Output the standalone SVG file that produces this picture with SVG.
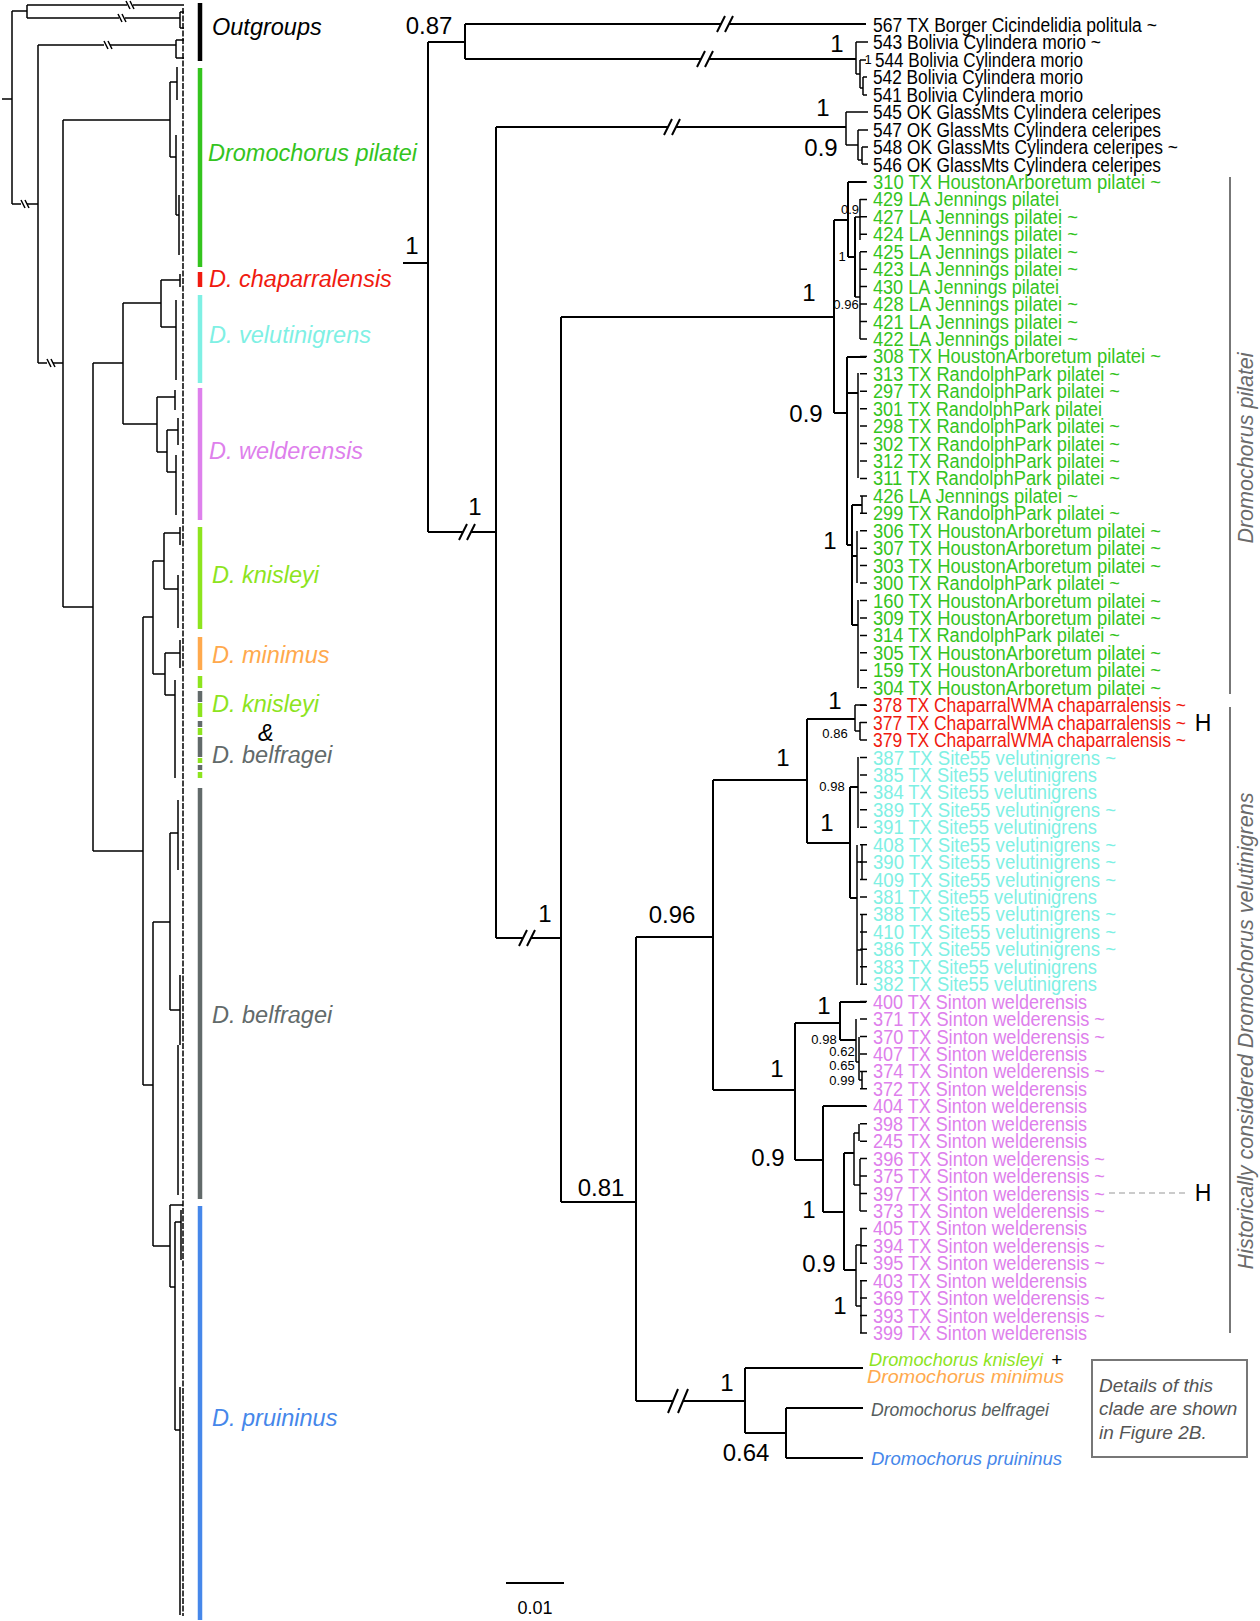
<svg xmlns="http://www.w3.org/2000/svg" width="1260" height="1621" viewBox="0 0 1260 1621">
<style>
text{font-family:"Liberation Sans",Arial,sans-serif}
.tip{font-size:20px}
.k{fill:#000}.g{fill:#34c41e}.r{fill:#f01a10}.c{fill:#7ff0e4}.p{fill:#de80ec}
.sup{font-size:24px;text-anchor:middle;fill:#000}
.ss{font-size:13px;text-anchor:middle;fill:#000}
.big{font-size:23.5px;font-style:italic}
.it{font-size:19px;font-style:italic}
.rot{font-size:21.5px;font-style:italic;fill:#6b6b6b;text-anchor:middle}
.ln{fill:none;stroke:#000;stroke-width:2}
.lt{fill:none;stroke:#000;stroke-width:1.5}
.bar{stroke-width:4.5;fill:none}
</style>
<rect width="1260" height="1621" fill="#fff"/>

<!-- left overview tree -->
<g id="overview-tree">
<path class="lt" d="M2,99 H12 M12,11 V204 M12,11 H27 M27,5 V18
M27,5 H127 M133,5 H184 M27,18 H119 M125,18 H180 M180,12 V28 M180,12 H184 M180,28 H184
M12,204 H21 M27,204 H38 M38,45 V363 M38,45 H104 M110,45 H176 M176,40 V58 M176,40 H184 M176,58 H184
M38,363 H47 M53,363 H63 M63,120 V607 M63,120 H170
M170,82 V157 M170,82 H177 M177,67 V100 M170,157 H176 M176,135 V215 M176,215 H179 M179,195 V255
M63,607 H93 M93,363 V851 M93,363 H123 M123,303 V424 M123,303 H161
M161,280 V327 M161,280 H180 M180,274 V287 M161,327 H176 M176,300 V380
M123,424 H157 M157,397 V452 M157,397 H175 M175,390 V410 M157,452 H167 M167,430 V472 M167,430 H178 M178,418 V445 M167,472 H176 M176,455 V515
M93,851 H143 M143,617 V1085 M143,617 H153 M153,561 V674 M153,561 H164 M164,533 V589 M164,533 H180 M180,527 V545 M164,589 H178 M178,575 V628
M153,674 H165 M165,653 V695 M165,653 H180 M180,640 V668 M165,695 H175 M175,680 V778
M143,1085 H153 M153,922 V1246 M153,922 H170 M170,833 V1010 M170,833 H178 M178,800 V870 M170,1010 H180 M180,975 V1045 M178,1045 V1195
M153,1246 H170 M170,1205 V1287 M170,1205 H183 M170,1287 H175 M175,1222 V1430 M175,1222 H181 M181,1210 V1260 M175,1430 H180 M180,1387 V1500 M180,1500 V1615"/>
<path class="lt" d="M183,8 V1616" stroke-dasharray="6 1.5"/>
<path class="lt" d="M130,1 L134,9 M126,1 L130,9 M122,14 L126,22 M118,14 L122,22 M21,200 L25,208 M25,200 L29,208 M104,41 L108,49 M108,41 L112,49 M47,359 L51,367 M51,359 L55,367" stroke-width="1.2"/>
</g>

<g id="clade-bars">
<path class="bar" stroke="#000" d="M200,3 V61"/>
<path class="bar" stroke="#34c41e" d="M200,68 V267"/>
<path class="bar" stroke="#f01a10" d="M200,272 V287"/>
<path class="bar" stroke="#7ff0e4" d="M200,295 V383"/>
<path class="bar" stroke="#de80ec" d="M200,388 V520"/>
<path class="bar" stroke="#8de41e" d="M200,527 V629 M200,676 V688 M200,703 V717 M200,728 V735 M200,758 V763 M200,772 V778"/>
<path class="bar" stroke="#ffa94d" d="M200,637 V670"/>
<path class="bar" stroke="#626a6a" d="M200,691 V702 M200,721 V727 M200,737 V757 M200,765 V770 M200,788 V1199"/>
<path class="bar" stroke="#4687ea" d="M200,1206 V1620"/>
</g>

<g id="label-outgroups"><text class="big" x="212" y="35" fill="#000">Outgroups</text></g>
<g id="label-pilatei"><text class="big" x="208" y="161" fill="#34c41e">Dromochorus pilatei</text></g>
<g id="label-chaparralensis"><text class="big" x="209" y="287" fill="#f01a10">D. chaparralensis</text></g>
<g id="label-velutinigrens"><text class="big" x="209" y="343" fill="#7ff0e4">D. velutinigrens</text></g>
<g id="label-welderensis"><text class="big" x="209" y="459" fill="#de80ec">D. welderensis</text></g>
<g id="label-knisleyi"><text class="big" x="212" y="583" fill="#8de41e">D. knisleyi</text></g>
<g id="label-minimus"><text class="big" x="212" y="663" fill="#ffa94d">D. minimus</text></g>
<g id="label-knisleyi2"><text class="big" x="212" y="712" fill="#8de41e">D. knisleyi</text></g>
<g id="label-amp"><text class="big" x="258" y="741" fill="#000">&amp;</text></g>
<g id="label-belfragei2"><text class="big" x="212" y="763" fill="#626a6a">D. belfragei</text></g>
<g id="label-belfragei"><text class="big" x="212" y="1023" fill="#626a6a">D. belfragei</text></g>
<g id="label-pruininus"><text class="big" x="212" y="1426" fill="#4687ea">D. pruininus</text></g>

<!-- right detailed tree -->
<g id="connectors">
<path class="ln" d="M403,263 H428 M428,42 V532 M428,42 H465 M465,24 V59
M465,24 H721 M729,24 H866
M465,59 H701 M709,59 H856
M428,532 H463 M471,532 H496
M496,127 V938
M496,127 H668 M676,127 H846
M496,938 H523 M531,938 H561
M561,317 V1202
M561,317 H834 M834,220 V413 M834,220 H848 M848,182 V257 M848,182 H866 M848,257 H855 M855,217 V297
M834,413 H847 M847,357 V545 M847,357 H866 M847,393 H858 M847,545 H852 M852,505 V625 M852,505 H862 M852,556 H857 M852,625 H858
M636,937 H713 M713,780 V1090 M713,780 H807 M807,719 V843 M807,719 H855 M807,843 H850 M850,787 V898 M850,787 H858 M850,898 H857
M713,1090 H795 M795,1023 V1160 M795,1023 H840 M840,1002 V1040 M840,1002 H866 M840,1040 H856
M795,1160 H823 M823,1106 V1212 M823,1106 H866 M823,1212 H844 M844,1153 V1270 M844,1153 H854 M844,1270 H856
M561,1202 H636 M636,937 V1401
M636,1401 H673 M683,1401 H745 M745,1368 V1433 M745,1368 H863 M745,1433 H786 M786,1408 V1458 M786,1408 H863 M786,1458 H863"/>
<path class="ln" d="M717,32 L725,16 M725,32 L733,16 M697,67 L705,51 M705,67 L713,51 M459,540 L467,524 M467,540 L475,524 M664,135 L672,119 M672,135 L680,119 M519,946 L527,930 M527,946 L535,930 M668,1413 L678,1389 M678,1413 L688,1389"/>
<path class="lt" d="M856,42 V74 M856,42 H868 M856,74 H860 M860,60 V88 M860,60 H866 M860,88 H863 M863,77 V95 M863,77 H867 M863,95 H867
M846,112 V145 M846,112 H868 M846,145 H858 M858,130 V160 M858,130 H868 M858,160 H862 M862,147 V164 M862,147 H868 M862,164 H868
M860,199 V240 M855,217 H860 M855,297 H860 M860,252 V339
M858,373 V478 M862,496 V513 M857,531 V583 M858,600 V688
M855,705 V731 M855,705 H866 M855,731 H860 M860,722 V740
M858,757 V828 M857,845 V985 M857,862 H862 M862,845 V880 M857,950 H862 M862,914 V985
M856,1019 V1062 M856,1062 H859 M859,1037 V1080 M859,1080 H862 M862,1071 V1089
M854,1133 V1185 M854,1133 H859 M859,1124 V1141 M854,1185 H860 M860,1159 V1211
M856,1245 V1306 M856,1245 H861 M861,1228 V1263 M856,1306 H861 M861,1281 V1333"/>
<path class="lt" d="M860,182h7M860,199.4h7M860,216.8h7M860,234.3h7M860,251.7h7M860,269.2h7M860,286.6h7M860,304h7M860,321.5h7M860,338.9h7M860,356.4h7M860,373.8h7M860,391.2h7M860,408.7h7M860,426.1h7M860,443.6h7M860,461h7M860,478.4h7M860,495.9h7M860,513.3h7M860,530.8h7M860,548.2h7M860,565.6h7M860,583.1h7M860,600.5h7M860,618h7M860,635.4h7M860,652.8h7M860,670.3h7M860,687.7h7M860,705.2h7M860,722.6h7M860,740h7M860,757.5h7M860,774.9h7M860,792.4h7M860,809.8h7M860,827.2h7M860,844.7h7M860,862.1h7M860,879.6h7M860,897h7M860,914.4h7M860,931.9h7M860,949.3h7M860,966.8h7M860,984.2h7M860,1001.6h7M860,1019.1h7M860,1036.5h7M860,1054h7M860,1071.4h7M860,1088.8h7M860,1106.3h7M860,1123.7h7M860,1141.2h7M860,1158.6h7M860,1176h7M860,1193.5h7M860,1210.9h7M860,1228.4h7M860,1245.8h7M860,1263.2h7M860,1280.7h7M860,1298.1h7M860,1315.6h7M860,1333h7"/>
<path d="M1109,1193 H1188" stroke="#bbb" stroke-width="1.5" stroke-dasharray="6 4" fill="none"/>
<path d="M1230,177 V694 M1230,707 V1333" stroke="#777" stroke-width="2" fill="none"/>
<path d="M506,1583 H564" stroke="#000" stroke-width="2" fill="none"/>
</g>

<g id="support-values">
<text class="sup" x="429" y="34">0.87</text>
<text class="sup" x="837" y="52">1</text>
<text class="sup" x="823" y="116">1</text>
<text class="sup" x="821" y="156">0.9</text>
<text class="sup" x="412" y="254">1</text>
<text class="sup" x="475" y="515">1</text>
<text class="sup" x="545" y="922">1</text>
<text class="sup" x="809" y="301">1</text>
<text class="sup" x="806" y="422">0.9</text>
<text class="sup" x="830" y="549">1</text>
<text class="sup" x="835" y="709">1</text>
<text class="sup" x="783" y="766">1</text>
<text class="sup" x="827" y="831">1</text>
<text class="sup" x="672" y="923">0.96</text>
<text class="sup" x="601" y="1196">0.81</text>
<text class="sup" x="777" y="1077">1</text>
<text class="sup" x="824" y="1014">1</text>
<text class="sup" x="768" y="1166">0.9</text>
<text class="sup" x="809" y="1218">1</text>
<text class="sup" x="819" y="1272">0.9</text>
<text class="sup" x="840" y="1314">1</text>
<text class="sup" x="727" y="1391">1</text>
<text class="sup" x="746" y="1461">0.64</text>
<text class="ss" x="850" y="214" font-size="11">0.9</text>
<text class="ss" x="842" y="261" font-size="16">1</text>
<text class="ss" x="846" y="309" font-size="11">0.96</text>
<text class="ss" x="835" y="738" font-size="14">0.86</text>
<text class="ss" x="832" y="791" font-size="14">0.98</text>
<text class="ss" x="824" y="1044">0.98</text>
<text class="ss" x="842" y="1056">0.62</text>
<text class="ss" x="842" y="1070">0.65</text>
<text class="ss" x="842" y="1085">0.99</text>
<text class="ss" x="868" y="64">1</text>
</g>

<g id="tip-labels">
<g id="t567"><text class="tip k" x="873" y="32" textLength="284" lengthAdjust="spacingAndGlyphs">567 TX Borger Cicindelidia politula ~</text></g>
<g id="t543"><text class="tip k" x="873" y="49.4" textLength="228" lengthAdjust="spacingAndGlyphs">543 Bolivia Cylindera morio ~</text></g>
<g id="t544"><text class="tip k" x="875" y="66.9" textLength="208" lengthAdjust="spacingAndGlyphs">544 Bolivia Cylindera morio</text></g>
<g id="t542"><text class="tip k" x="873" y="84.3" textLength="210" lengthAdjust="spacingAndGlyphs">542 Bolivia Cylindera morio</text></g>
<g id="t541"><text class="tip k" x="873" y="101.8" textLength="210" lengthAdjust="spacingAndGlyphs">541 Bolivia Cylindera morio</text></g>
<g id="t545"><text class="tip k" x="873" y="119.2" textLength="288" lengthAdjust="spacingAndGlyphs">545 OK GlassMts Cylindera celeripes</text></g>
<g id="t547"><text class="tip k" x="873" y="136.6" textLength="288" lengthAdjust="spacingAndGlyphs">547 OK GlassMts Cylindera celeripes</text></g>
<g id="t548"><text class="tip k" x="873" y="154.1" textLength="305" lengthAdjust="spacingAndGlyphs">548 OK GlassMts Cylindera celeripes ~</text></g>
<g id="t546"><text class="tip k" x="873" y="171.5" textLength="288" lengthAdjust="spacingAndGlyphs">546 OK GlassMts Cylindera celeripes</text></g>
<g id="t310"><text class="tip g" x="873" y="189" textLength="288" lengthAdjust="spacingAndGlyphs">310 TX HoustonArboretum pilatei ~</text></g>
<g id="t429"><text class="tip g" x="873" y="206.4" textLength="186" lengthAdjust="spacingAndGlyphs">429 LA Jennings pilatei</text></g>
<g id="t427"><text class="tip g" x="873" y="223.8" textLength="205" lengthAdjust="spacingAndGlyphs">427 LA Jennings pilatei ~</text></g>
<g id="t424"><text class="tip g" x="873" y="241.3" textLength="205" lengthAdjust="spacingAndGlyphs">424 LA Jennings pilatei ~</text></g>
<g id="t425"><text class="tip g" x="873" y="258.7" textLength="205" lengthAdjust="spacingAndGlyphs">425 LA Jennings pilatei ~</text></g>
<g id="t423"><text class="tip g" x="873" y="276.2" textLength="205" lengthAdjust="spacingAndGlyphs">423 LA Jennings pilatei ~</text></g>
<g id="t430"><text class="tip g" x="873" y="293.6" textLength="186" lengthAdjust="spacingAndGlyphs">430 LA Jennings pilatei</text></g>
<g id="t428"><text class="tip g" x="873" y="311" textLength="205" lengthAdjust="spacingAndGlyphs">428 LA Jennings pilatei ~</text></g>
<g id="t421"><text class="tip g" x="873" y="328.5" textLength="205" lengthAdjust="spacingAndGlyphs">421 LA Jennings pilatei ~</text></g>
<g id="t422"><text class="tip g" x="873" y="345.9" textLength="205" lengthAdjust="spacingAndGlyphs">422 LA Jennings pilatei ~</text></g>
<g id="t308"><text class="tip g" x="873" y="363.4" textLength="288" lengthAdjust="spacingAndGlyphs">308 TX HoustonArboretum pilatei ~</text></g>
<g id="t313"><text class="tip g" x="873" y="380.8" textLength="247" lengthAdjust="spacingAndGlyphs">313 TX RandolphPark pilatei ~</text></g>
<g id="t297"><text class="tip g" x="873" y="398.2" textLength="247" lengthAdjust="spacingAndGlyphs">297 TX RandolphPark pilatei ~</text></g>
<g id="t301"><text class="tip g" x="873" y="415.7" textLength="229" lengthAdjust="spacingAndGlyphs">301 TX RandolphPark pilatei</text></g>
<g id="t298"><text class="tip g" x="873" y="433.1" textLength="247" lengthAdjust="spacingAndGlyphs">298 TX RandolphPark pilatei ~</text></g>
<g id="t302"><text class="tip g" x="873" y="450.6" textLength="247" lengthAdjust="spacingAndGlyphs">302 TX RandolphPark pilatei ~</text></g>
<g id="t312"><text class="tip g" x="873" y="468" textLength="247" lengthAdjust="spacingAndGlyphs">312 TX RandolphPark pilatei ~</text></g>
<g id="t311"><text class="tip g" x="873" y="485.4" textLength="247" lengthAdjust="spacingAndGlyphs">311 TX RandolphPark pilatei ~</text></g>
<g id="t426"><text class="tip g" x="873" y="502.9" textLength="205" lengthAdjust="spacingAndGlyphs">426 LA Jennings pilatei ~</text></g>
<g id="t299"><text class="tip g" x="873" y="520.3" textLength="247" lengthAdjust="spacingAndGlyphs">299 TX RandolphPark pilatei ~</text></g>
<g id="t306"><text class="tip g" x="873" y="537.8" textLength="288" lengthAdjust="spacingAndGlyphs">306 TX HoustonArboretum pilatei ~</text></g>
<g id="t307"><text class="tip g" x="873" y="555.2" textLength="288" lengthAdjust="spacingAndGlyphs">307 TX HoustonArboretum pilatei ~</text></g>
<g id="t303"><text class="tip g" x="873" y="572.6" textLength="288" lengthAdjust="spacingAndGlyphs">303 TX HoustonArboretum pilatei ~</text></g>
<g id="t300"><text class="tip g" x="873" y="590.1" textLength="247" lengthAdjust="spacingAndGlyphs">300 TX RandolphPark pilatei ~</text></g>
<g id="t160"><text class="tip g" x="873" y="607.5" textLength="288" lengthAdjust="spacingAndGlyphs">160 TX HoustonArboretum pilatei ~</text></g>
<g id="t309"><text class="tip g" x="873" y="625" textLength="288" lengthAdjust="spacingAndGlyphs">309 TX HoustonArboretum pilatei ~</text></g>
<g id="t314"><text class="tip g" x="873" y="642.4" textLength="247" lengthAdjust="spacingAndGlyphs">314 TX RandolphPark pilatei ~</text></g>
<g id="t305"><text class="tip g" x="873" y="659.8" textLength="288" lengthAdjust="spacingAndGlyphs">305 TX HoustonArboretum pilatei ~</text></g>
<g id="t159"><text class="tip g" x="873" y="677.3" textLength="288" lengthAdjust="spacingAndGlyphs">159 TX HoustonArboretum pilatei ~</text></g>
<g id="t304"><text class="tip g" x="873" y="694.7" textLength="288" lengthAdjust="spacingAndGlyphs">304 TX HoustonArboretum pilatei ~</text></g>
<g id="t378"><text class="tip r" x="873" y="712.2" textLength="313" lengthAdjust="spacingAndGlyphs">378 TX ChaparralWMA chaparralensis ~</text></g>
<g id="t377"><text class="tip r" x="873" y="729.6" textLength="313" lengthAdjust="spacingAndGlyphs">377 TX ChaparralWMA chaparralensis ~</text></g>
<g id="t379"><text class="tip r" x="873" y="747" textLength="313" lengthAdjust="spacingAndGlyphs">379 TX ChaparralWMA chaparralensis ~</text></g>
<g id="t387"><text class="tip c" x="873" y="764.5" textLength="243" lengthAdjust="spacingAndGlyphs">387 TX Site55 velutinigrens ~</text></g>
<g id="t385"><text class="tip c" x="873" y="781.9" textLength="224" lengthAdjust="spacingAndGlyphs">385 TX Site55 velutinigrens</text></g>
<g id="t384"><text class="tip c" x="873" y="799.4" textLength="224" lengthAdjust="spacingAndGlyphs">384 TX Site55 velutinigrens</text></g>
<g id="t389"><text class="tip c" x="873" y="816.8" textLength="243" lengthAdjust="spacingAndGlyphs">389 TX Site55 velutinigrens ~</text></g>
<g id="t391"><text class="tip c" x="873" y="834.2" textLength="224" lengthAdjust="spacingAndGlyphs">391 TX Site55 velutinigrens</text></g>
<g id="t408"><text class="tip c" x="873" y="851.7" textLength="243" lengthAdjust="spacingAndGlyphs">408 TX Site55 velutinigrens ~</text></g>
<g id="t390"><text class="tip c" x="873" y="869.1" textLength="243" lengthAdjust="spacingAndGlyphs">390 TX Site55 velutinigrens ~</text></g>
<g id="t409"><text class="tip c" x="873" y="886.6" textLength="243" lengthAdjust="spacingAndGlyphs">409 TX Site55 velutinigrens ~</text></g>
<g id="t381"><text class="tip c" x="873" y="904" textLength="224" lengthAdjust="spacingAndGlyphs">381 TX Site55 velutinigrens</text></g>
<g id="t388"><text class="tip c" x="873" y="921.4" textLength="243" lengthAdjust="spacingAndGlyphs">388 TX Site55 velutinigrens ~</text></g>
<g id="t410"><text class="tip c" x="873" y="938.9" textLength="243" lengthAdjust="spacingAndGlyphs">410 TX Site55 velutinigrens ~</text></g>
<g id="t386"><text class="tip c" x="873" y="956.3" textLength="243" lengthAdjust="spacingAndGlyphs">386 TX Site55 velutinigrens ~</text></g>
<g id="t383"><text class="tip c" x="873" y="973.8" textLength="224" lengthAdjust="spacingAndGlyphs">383 TX Site55 velutinigrens</text></g>
<g id="t382"><text class="tip c" x="873" y="991.2" textLength="224" lengthAdjust="spacingAndGlyphs">382 TX Site55 velutinigrens</text></g>
<g id="t400"><text class="tip p" x="873" y="1008.6" textLength="214" lengthAdjust="spacingAndGlyphs">400 TX Sinton welderensis</text></g>
<g id="t371"><text class="tip p" x="873" y="1026.1" textLength="232" lengthAdjust="spacingAndGlyphs">371 TX Sinton welderensis ~</text></g>
<g id="t370"><text class="tip p" x="873" y="1043.5" textLength="232" lengthAdjust="spacingAndGlyphs">370 TX Sinton welderensis ~</text></g>
<g id="t407"><text class="tip p" x="873" y="1061" textLength="214" lengthAdjust="spacingAndGlyphs">407 TX Sinton welderensis</text></g>
<g id="t374"><text class="tip p" x="873" y="1078.4" textLength="232" lengthAdjust="spacingAndGlyphs">374 TX Sinton welderensis ~</text></g>
<g id="t372"><text class="tip p" x="873" y="1095.8" textLength="214" lengthAdjust="spacingAndGlyphs">372 TX Sinton welderensis</text></g>
<g id="t404"><text class="tip p" x="873" y="1113.3" textLength="214" lengthAdjust="spacingAndGlyphs">404 TX Sinton welderensis</text></g>
<g id="t398"><text class="tip p" x="873" y="1130.7" textLength="214" lengthAdjust="spacingAndGlyphs">398 TX Sinton welderensis</text></g>
<g id="t245"><text class="tip p" x="873" y="1148.2" textLength="214" lengthAdjust="spacingAndGlyphs">245 TX Sinton welderensis</text></g>
<g id="t396"><text class="tip p" x="873" y="1165.6" textLength="232" lengthAdjust="spacingAndGlyphs">396 TX Sinton welderensis ~</text></g>
<g id="t375"><text class="tip p" x="873" y="1183" textLength="232" lengthAdjust="spacingAndGlyphs">375 TX Sinton welderensis ~</text></g>
<g id="t397"><text class="tip p" x="873" y="1200.5" textLength="232" lengthAdjust="spacingAndGlyphs">397 TX Sinton welderensis ~</text></g>
<g id="t373"><text class="tip p" x="873" y="1217.9" textLength="232" lengthAdjust="spacingAndGlyphs">373 TX Sinton welderensis ~</text></g>
<g id="t405"><text class="tip p" x="873" y="1235.4" textLength="214" lengthAdjust="spacingAndGlyphs">405 TX Sinton welderensis</text></g>
<g id="t394"><text class="tip p" x="873" y="1252.8" textLength="232" lengthAdjust="spacingAndGlyphs">394 TX Sinton welderensis ~</text></g>
<g id="t395"><text class="tip p" x="873" y="1270.2" textLength="232" lengthAdjust="spacingAndGlyphs">395 TX Sinton welderensis ~</text></g>
<g id="t403"><text class="tip p" x="873" y="1287.7" textLength="214" lengthAdjust="spacingAndGlyphs">403 TX Sinton welderensis</text></g>
<g id="t369"><text class="tip p" x="873" y="1305.1" textLength="232" lengthAdjust="spacingAndGlyphs">369 TX Sinton welderensis ~</text></g>
<g id="t393"><text class="tip p" x="873" y="1322.6" textLength="232" lengthAdjust="spacingAndGlyphs">393 TX Sinton welderensis ~</text></g>
<g id="t399"><text class="tip p" x="873" y="1340" textLength="214" lengthAdjust="spacingAndGlyphs">399 TX Sinton welderensis</text></g>
</g>

<g id="collapsed-clades">
<g id="c-knisleyi"><text class="it" x="869" y="1366" fill="#8de41e" textLength="174" lengthAdjust="spacingAndGlyphs">Dromochorus knisleyi</text><text class="it" x="1051" y="1366" fill="#000">+</text></g>
<g id="c-minimus"><text class="it" x="867" y="1383" fill="#ffa94d" textLength="197" lengthAdjust="spacingAndGlyphs">Dromochorus minimus</text></g>
<g id="c-belfragei"><text class="it" x="871" y="1416" fill="#555d5d" textLength="178" lengthAdjust="spacingAndGlyphs">Dromochorus belfragei</text></g>
<g id="c-pruininus"><text class="it" x="871" y="1465" fill="#4687ea" textLength="191" lengthAdjust="spacingAndGlyphs">Dromochorus pruininus</text></g>
</g>

<g id="note-box">
<rect x="1092" y="1360" width="155" height="97" fill="none" stroke="#777" stroke-width="2"/>
<text class="it" x="1099" y="1392" fill="#555" font-size="19.5">Details of this</text>
<text class="it" x="1099" y="1415" fill="#555" font-size="19.5">clade are shown</text>
<text class="it" x="1099" y="1439" fill="#555" font-size="19.5">in Figure 2B.</text>
</g>

<g id="group-labels">
<g id="g-pilatei"><text class="rot" transform="translate(1253,448) rotate(-90)">Dromochorus pilatei</text></g>
<g id="g-historical"><text class="rot" transform="translate(1253,1031) rotate(-90)">Historically considered Dromochorus velutinigrens</text></g>
<g id="h1"><text x="1203" y="731" font-size="23" text-anchor="middle" fill="#000">H</text></g>
<g id="h2"><text x="1203" y="1201" font-size="23" text-anchor="middle" fill="#000">H</text></g>
</g>

<g id="scale-bar"><text x="535" y="1614" font-size="18" text-anchor="middle" fill="#000">0.01</text></g>
</svg>
